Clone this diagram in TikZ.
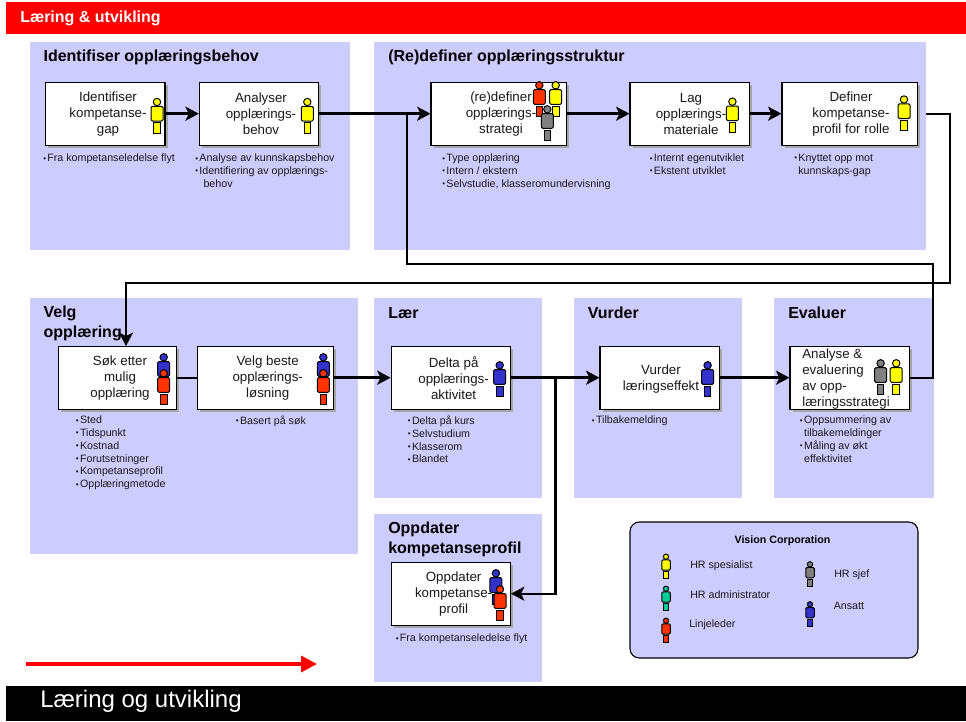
\documentclass[tikz,border=0pt]{standalone}
\usepackage{fontspec}
\setmainfont{Liberation Sans}
\usetikzlibrary{arrows.meta,shadows}
\definecolor{panelblue}{HTML}{CCCCFF}
\definecolor{hryellow}{HTML}{FFFF00}
\definecolor{hrred}{HTML}{FF3300}
\definecolor{hrblue}{HTML}{3333CC}
\definecolor{hrgrey}{HTML}{808080}
\definecolor{hrteal}{HTML}{00CC99}
\newcommand{\bl}{\makebox[3.1pt][l]{\raisebox{.5pt}{\fontsize{6}{6}\selectfont •}}}
\newcommand{\ind}{\hspace*{3.1pt}}
\tikzset{
    panel/.style={fill=panelblue},
    title/.style={anchor=west,inner sep=0pt,align=left,font=\fontsize{12}{15}\bfseries\selectfont},
    stepbox/.style={draw=black,fill=white,line width=.8pt,minimum height=47.5pt,inner sep=0pt,
        drop shadow={shadow xshift=1.9pt,shadow yshift=-1.9pt,fill=black!35,opacity=1}},
    steptext/.style={inner sep=0pt,align=center,text=black!90,font=\fontsize{10}{12}\selectfont},
    note/.style={anchor=north west,inner sep=0pt,align=left,text=black!90,font=\fontsize{8}{9.6}\selectfont},
    legendtext/.style={anchor=west,inner sep=0pt,text=black!90,font=\fontsize{8}{9.6}\selectfont},
    flow/.style={draw=black,line width=2.1pt,-{Stealth[length=10pt,width=10.5pt,inset=2.5pt]}},
    line/.style={draw=black,line width=1.6pt},
    pics/person/.style={code={
        \filldraw[fill=#1,draw=black,line width=.75pt] (0,0) circle (3.7);
        \filldraw[fill=#1,draw=black,line width=.75pt,rounded corners=1pt] (-6,4.3) rectangle (6,19);
        \filldraw[fill=#1,draw=black,line width=.75pt] (-3.3,20.7) rectangle (3.3,31);
    }}
}
\begin{document}
\begin{tikzpicture}[x=.75pt,y=-.75pt]
    \useasboundingbox (0,0) rectangle (966,721);
    % bars
    \fill[red] (6,2) rectangle (966,34);
    \fill[black] (6,686) rectangle (966,721);
    \node[anchor=west,inner sep=0pt,text=white,font=\fontsize{12}{14}\bfseries\selectfont] (headbar) at (20,18) {Læring \& utvikling};
    \node[anchor=west,inner sep=0pt,text=white,font=\fontsize{18}{20}\selectfont] (footbar) at (40,701) {Læring og utvikling};
    % panels
    \fill[panel] (30,42) rectangle (350,250);
    \fill[panel] (374,42) rectangle (926,250);
    \fill[panel] (30,298) rectangle (358,554);
    \fill[panel] (374,298) rectangle (542,498);
    \fill[panel] (574,298) rectangle (742,498);
    \fill[panel] (774,298) rectangle (934,498);
    \fill[panel] (374,514) rectangle (542,682);
    \node[title] (t1) at (43.3,57) {Identifiser opplæringsbehov};
    \node[title] (t2) at (388,57) {(Re)definer opplæringsstruktur};
    \node[title] (t3) at (43.3,323) {Velg\\opplæring};
    \node[title] (t4) at (388,313) {Lær};
    \node[title] (t5) at (587.5,313) {Vurder};
    \node[title] (t6) at (788,313) {Evaluer};
    \node[title] (t7) at (388,539) {Oppdater\\kompetanseprofil};
    % steps
    \node[stepbox,minimum width=89.5pt] (identifiser) at (105.3,113.7) {};
    \node[stepbox,minimum width=89.5pt] (analyser) at (259,113.7) {};
    \node[stepbox,minimum width=101.7pt] (redefiner) at (498.8,113.7) {};
    \node[stepbox,minimum width=89.3pt] (lag) at (689.5,113.7) {};
    \node[stepbox,minimum width=101.3pt] (definer) at (849.5,113.7) {};
    \node[stepbox,minimum width=88.8pt] (sok) at (117.5,377.7) {};
    \node[stepbox,minimum width=101.7pt] (velg) at (265.5,377.7) {};
    \node[stepbox,minimum width=89.5pt] (delta) at (450.8,377.7) {};
    \node[stepbox,minimum width=89.3pt] (vurder) at (659.5,377.7) {};
    \node[stepbox,minimum width=89.3pt] (analyse) at (849.5,377.7) {};
    \node[stepbox,minimum width=89.5pt] (oppdater) at (450.8,593.7) {};
    \node[steptext] (identifisertxt) at (108,114) {Identifiser\\kompetanse-\\gap};
    \node[steptext] (analysertxt) at (261,114) {Analyser\\opplærings-\\behov};
    \node[steptext] (redefinertxt) at (501,114) {(re)definer\\opplærings-\\strategi};
    \node[steptext] (lagtxt) at (691,114) {Lag\\opplærings-\\materiale};
    \node[steptext] (definertxt) at (851,114) {Definer\\kompetanse-\\profil for rolle};
    \node[steptext] (soktxt) at (120,378) {Søk etter\\mulig\\opplæring};
    \node[steptext] (velgtxt) at (267.7,378) {Velg beste\\opplærings-\\løsning};
    \node[steptext] (deltatxt) at (453.6,378) {Delta på\\opplærings-\\aktivitet};
    \node[steptext] (vurdertxt) at (661,379) {Vurder\\læringseffekt};
    \node[steptext,align=left] (analysetxt) at (846,378.7) {Analyse \&\\evaluering\\av opp-\\læringsstrategi};
    \node[steptext] (oppdatertxt) at (453.6,594.3) {Oppdater\\kompetanse-\\profil};
    % notes
    \node[note] (n1) at (43,153.7) {\bl Fra kompetanseledelse flyt};
    \node[note] (n2) at (195,153.7) {\bl Analyse av kunnskapsbehov\\\bl Identifiering av opplærings-\\\ind\ind behov};
    \node[note] (n3) at (442,153.7) {\bl Type opplæring\\\bl Intern / ekstern\\\bl Selvstudie, klasseromundervisning};
    \node[note] (n4) at (649.5,153.7) {\bl Internt egenutviklet\\\bl Ekstent utviklet};
    \node[note] (n5) at (794,153.7) {\bl Knyttet opp mot\\\ind kunnskaps-gap};
    \node[note] (n6) at (75.7,415.7) {\bl Sted\\\bl Tidspunkt\\\bl Kostnad\\\bl Forutsetninger\\\bl Kompetanseprofil\\\bl Opplæringmetode};
    \node[note] (n7) at (235.7,415.7) {\bl Basert på søk};
    \node[note] (n8) at (407.6,415.7) {\bl Delta på kurs\\\bl Selvstudium\\\bl Klasserom\\\bl Blandet};
    \node[note] (n9) at (591.7,415.7) {\bl Tilbakemelding};
    \node[note] (n10) at (799.7,415.7) {\bl Oppsummering av\\\ind tilbakemeldinger\\\bl Måling av økt\\\ind effektivitet};
    \node[note] (n11) at (395.5,633.7) {\bl Fra kompetanseledelse flyt};
    % persons
    \pic at (157,102) {person=hryellow};
    \pic at (307.3,102) {person=hryellow};
    \pic at (539.3,85.3) {person=hrred};
    \pic at (555.7,85.3) {person=hryellow};
    \pic at (547.3,109.3) {person=hrgrey};
    \pic at (732.4,101.7) {person=hryellow};
    \pic at (904,99.5) {person=hryellow};
    \pic at (163.7,357.3) {person=hrblue};
    \pic at (163.7,373.3) {person=hrred};
    \pic at (323.3,357.3) {person=hrblue};
    \pic at (323.3,373.3) {person=hrred};
    \pic at (499.7,365.3) {person=hrblue};
    \pic at (707.6,365.3) {person=hrblue};
    \pic at (880.6,363.3) {person=hrgrey};
    \pic at (896.2,363.3) {person=hryellow};
    \pic at (495.9,573.3) {person=hrblue};
    \pic at (500,589.3) {person=hrred};
    % connectors
    \coordinate (redefin) at (407.3,113.7);
    \coordinate (definerout) at (926,113.7);
    \coordinate (sokin) at (126,346);
    \coordinate (deltaout) at (555.5,377.7);
    \coordinate (oppdaterin) at (555.5,593.7);
    \draw[flow] (identifiser.east) -- (analyser.west);
    \draw[flow] (analyser.east) -- (redefiner.west);
    \draw[flow] (redefiner.east) -- (lag.west);
    \draw[flow] (lag.east) -- (definer.west);
    \draw[flow,line width=1.6pt] (definerout) -- (950,113.7) -- (950,282.7) -- (126,282.7) -- (sokin);
    \draw[line] (sok.east) -- (velg.west);
    \draw[flow] (velg.east) -- (delta.west);
    \draw[flow] (delta.east) -- (vurder.west);
    \draw[flow] (vurder.east) -- (analyse.west);
    \draw[line] (analyse.east) -- (932.7,377.7) -- (932.7,264) -- (407.3,264) -- (redefin);
    \draw[flow,line width=1.6pt] (deltaout) -- (oppdaterin) -- (oppdater.east);
    % legend
    \draw[fill=panelblue,line width=.8pt,rounded corners=7pt] (630,522) rectangle (918,658);
    \node[inner sep=0pt,font=\fontsize{8}{9.6}\bfseries\selectfont] (legendtitle) at (782.5,541) {Vision Corporation};
    \pic[scale=.71] at (666,556.7) {person=hryellow};
    \pic[scale=.71] at (666,588.7) {person=hrteal};
    \pic[scale=.71] at (666,620.7) {person=hrred};
    \pic[scale=.71] at (810,564.3) {person=hrgrey};
    \pic[scale=.71] at (810,604.3) {person=hrblue};
    \node[legendtext] (l1) at (690,566) {HR spesialist};
    \node[legendtext] (l2) at (690,595) {HR administrator};
    \node[legendtext] (l3) at (689,625) {Linjeleder};
    \node[legendtext] (l4) at (834,575) {HR sjef};
    \node[legendtext] (l5) at (833.5,606) {Ansatt};
    % red arrow
    \coordinate (redstart) at (26,664);
    \coordinate (redend) at (317,664);
    \draw[red,line width=2.5pt,-{Triangle[length=12pt,width=12pt]}] (redstart) -- (redend);
\end{tikzpicture}
\end{document}
